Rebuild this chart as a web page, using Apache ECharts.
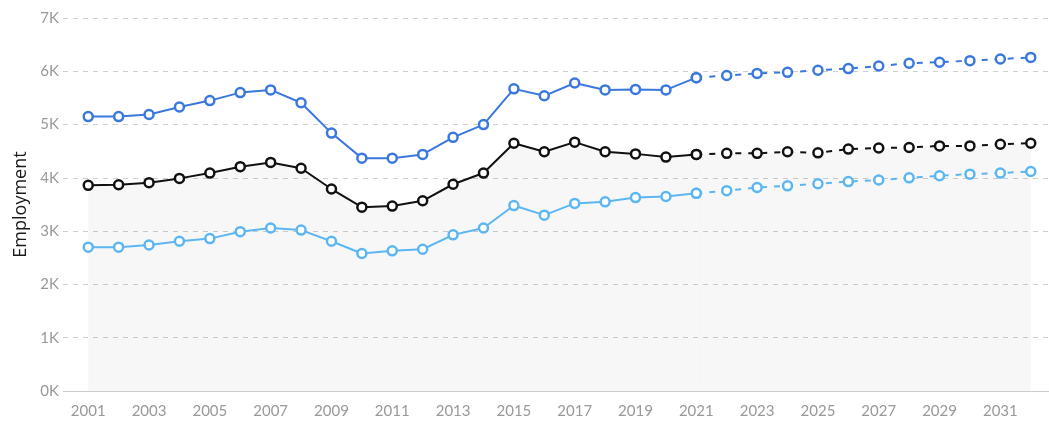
<!DOCTYPE html>
<html>
<head>
<meta charset="utf-8">
<script src="https://cdn.jsdelivr.net/npm/echarts@6/dist/echarts.min.js"></script>
<style>
  html, body { margin: 0; padding: 0; background: #fff; }
  #chart { width: 1049px; height: 423px; }
</style>
</head>
<body>
<div id="chart"></div>
<script>
// years 2001..2032, history up to 2021, projection after
const years = [2001, 2002, 2003, 2004, 2005, 2006, 2007, 2008, 2009, 2010, 2011,
  2012, 2013, 2014, 2015, 2016, 2017, 2018, 2019, 2020, 2021,
  2022, 2023, 2024, 2025, 2026, 2027, 2028, 2029, 2030, 2031, 2032];
const lastActual = 2021;
const tickYears = [2001, 2003, 2005, 2007, 2009, 2011, 2013, 2015, 2017, 2019,
  2021, 2023, 2025, 2027, 2029, 2031];

const upperValues = [5150, 5150, 5190, 5330, 5450, 5600, 5650, 5410, 4840, 4370, 4370,
  4440, 4760, 5000, 5670, 5540, 5780, 5650, 5660, 5650, 5880,
  5920, 5960, 5980, 6020, 6050, 6100, 6150, 6170, 6200, 6230, 6260];
const middleValues = [3860, 3870, 3910, 3990, 4090, 4210, 4290, 4180, 3790, 3450, 3470,
  3570, 3880, 4090, 4650, 4490, 4670, 4490, 4450, 4390, 4440,
  4460, 4460, 4490, 4470, 4540, 4560, 4570, 4600, 4600, 4630, 4650];
const lowerValues = [2700, 2700, 2740, 2810, 2860, 2990, 3060, 3020, 2810, 2580, 2630,
  2660, 2930, 3060, 3480, 3300, 3520, 3550, 3630, 3650, 3710,
  3760, 3820, 3850, 3890, 3930, 3960, 4000, 4040, 4070, 4090, 4120];

const pairs = (vals, from, to) =>
  years.map((y, i) => [y, vals[i]]).filter(p => p[0] >= from && p[0] <= to);

const makeSeries = (vals, color, area) => {
  const base = {
    type: "line",
    symbol: "circle",
    symbolSize: 9,
    showSymbol: true,
    itemStyle: { color: "#fff", borderColor: color, borderWidth: 2.5 },
    emphasis: { disabled: true },
  };
  const solid = Object.assign({}, base, {
    data: pairs(vals, 2001, lastActual),
    lineStyle: { color: color, width: 2 },
    z: 3,
  });
  const dashed = Object.assign({}, base, {
    data: pairs(vals, lastActual, 2032),
    lineStyle: { color: color, width: 2, type: [6, 7] },
    z: 3,
  });
  if (area) {
    solid.areaStyle = { color: "rgba(0,0,0,0.045)" };
    dashed.areaStyle = { color: "rgba(0,0,0,0.045)" };
  }
  return [solid, dashed];
};

const chart = echarts.init(document.getElementById("chart"));
chart.setOption({
  animation: false,
  grid: { left: 63, right: 0, top: 18, bottom: 32 },
  xAxis: {
    type: "value",
    min: 2000.17,
    max: 2032.6,
    axisLine: { show: true, lineStyle: { color: "#cccccc", width: 1 } },
    axisTick: { show: false },
    splitLine: { show: false },
    axisLabel: {
      customValues: tickYears,
      formatter: (v) => String(v),
      color: "#999999",
      fontFamily: "Lato",
      fontSize: 15,
      margin: 13,
    },
  },
  yAxis: {
    type: "value",
    min: 0,
    max: 7000,
    interval: 1000,
    name: "Employment",
    nameLocation: "middle",
    nameGap: 33,
    nameTextStyle: { color: "#1a1a1a", fontFamily: "Open Sans", fontSize: 18 },
    axisLine: { show: false },
    axisTick: { show: false },
    axisLabel: {
      color: "#999999",
      fontFamily: "Lato",
      fontSize: 15,
      margin: 4,
      formatter: (v) => v / 1000 + "K",
    },
    splitLine: { lineStyle: { color: "#cfcfcf", type: [5, 5], width: 1 } },
  },
  series: [
    ...makeSeries(middleValues, "#111111", true),
    ...makeSeries(upperValues, "#3a78de", false),
    ...makeSeries(lowerValues, "#5cb6f2", false),
  ],
});
</script>
</body>
</html>
